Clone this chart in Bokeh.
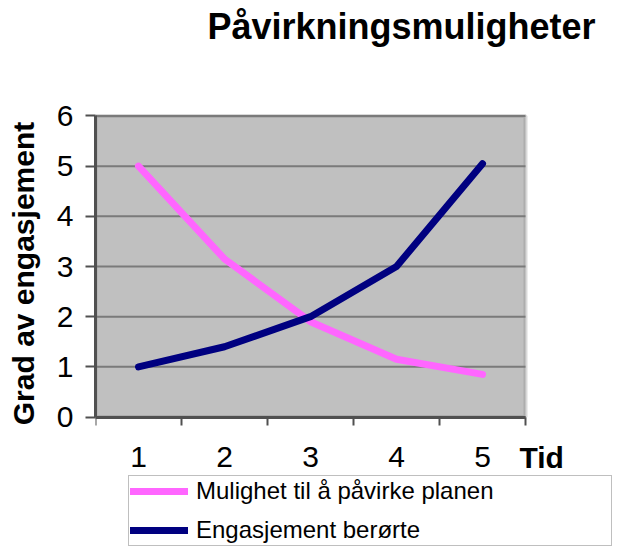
from bokeh.plotting import figure
from bokeh.models import FixedTicker, Legend, LegendItem, Range1d, BoxAnnotation, Label
from bokeh.embed import file_html
from bokeh.resources import INLINE

# Data
tid = [1, 2, 3, 4, 5]
x_tick_labels = ["1", "2", "3", "4", "5"]
mulighet = [5.0, 3.15, 1.9, 1.15, 0.85]
engasjement = [1.0, 1.4, 2.0, 3.0, 5.05]
series_names = ["Mulighet til å påvirke planen", "Engasjement berørte"]
y_ticks = [0, 1, 2, 3, 4, 5, 6]

FONT = "Liberation Sans"
X0, X1 = tid[0] - 0.5, tid[-1] + 0.5      # category band edges
Y0, Y1 = y_ticks[0], y_ticks[-1]

# frame extends around the grey plot area so that title, legend and "Tid" sit inside it
p = figure(width=614, height=546, output_backend="svg", toolbar_location=None,
           x_range=Range1d(X0, 6.5116), y_range=Range1d(-2.581, 8.302),
           min_border_left=95, min_border_right=2, min_border_top=0, min_border_bottom=0)

p.background_fill_color = "white"
p.border_fill_color = "white"
p.outline_line_color = None
p.title.text = ""

# plot area (grey) with its border
area = BoxAnnotation(left=X0, right=X1, bottom=Y0, top=Y1, fill_color="#C0C0C0", fill_alpha=1,
                     line_color="#808080", line_width=4, level="image")
p.add_layout(area)

# horizontal grid lines limited to the grey plot area
p.xgrid.visible = False
p.ygrid.visible = False
p.segment(x0=[X0] * len(y_ticks), x1=[X1] * len(y_ticks), y0=y_ticks, y1=y_ticks,
          line_color="#7a7a7a", line_width=2, level="underlay")

# x axis
xa = p.xaxis[0]
xa.fixed_location = Y0
xa.bounds = (X0, X1)
xa.ticker = FixedTicker(ticks=tid, minor_ticks=[t - 0.5 for t in tid] + [tid[-1] + 0.5])
xa.major_label_overrides = {t: l for t, l in zip(tid, x_tick_labels)}
xa.major_tick_out = 0
xa.major_tick_in = 0
xa.minor_tick_out = 8
xa.minor_tick_in = 0
xa.minor_tick_line_color = "#505050"
xa.minor_tick_line_width = 2
xa.axis_line_color = "#505050"
xa.axis_line_width = 3
xa.major_label_text_font = FONT
xa.major_label_text_font_size = "30px"
xa.major_label_text_color = "black"
xa.major_label_standoff = 22

# y axis
ya = p.yaxis[0]
ya.bounds = (Y0, Y1)
ya.ticker = FixedTicker(ticks=y_ticks)
ya.major_tick_out = 10
ya.major_tick_in = 0
ya.minor_tick_out = 0
ya.minor_tick_in = 0
ya.major_tick_line_color = "#505050"
ya.major_tick_line_width = 2
ya.axis_line_color = "#505050"
ya.axis_line_width = 3
ya.major_label_text_font = FONT
ya.major_label_text_font_size = "30px"
ya.major_label_text_color = "black"
ya.major_label_standoff = 12
ya.axis_label = "Grad av engasjement"
ya.axis_label_text_font = FONT
ya.axis_label_text_font_size = "30px"
ya.axis_label_text_font_style = "bold"
ya.axis_label_text_color = "black"
ya.axis_label_standoff = 14

r1 = p.line(tid, mulighet, line_color="#FF66FF", line_width=7, line_cap="round", line_join="round")
r2 = p.line(tid, engasjement, line_color="#000080", line_width=7, line_cap="round", line_join="round")

legend = Legend(items=[LegendItem(label=series_names[0], renderers=[r1]),
                       LegendItem(label=series_names[1], renderers=[r2])],
                location=(33, 0), orientation="vertical",
                label_text_font=FONT, label_text_font_size="24px", label_text_color="black",
                glyph_width=58, glyph_height=28, label_height=28, label_width=414,
                label_standoff=8, spacing=11, padding=1, margin=0,
                border_line_color="#808080", border_line_width=1.5,
                background_fill_color="white", background_fill_alpha=1)
p.add_layout(legend, "center")

title = Label(x=1.802, y=7.784, text="Påvirkningsmuligheter", text_font=FONT,
              text_font_size="36px", text_font_style="bold", text_align="left",
              text_baseline="middle", text_color="black")
p.add_layout(title)

tid_label = Label(x=5.43, y=-0.80, text="Tid", text_font=FONT, text_font_size="30px",
                  text_font_style="bold", text_align="left", text_baseline="middle",
                  text_color="black")
p.add_layout(tid_label)

open("out.html", "w").write(file_html(p, INLINE))
